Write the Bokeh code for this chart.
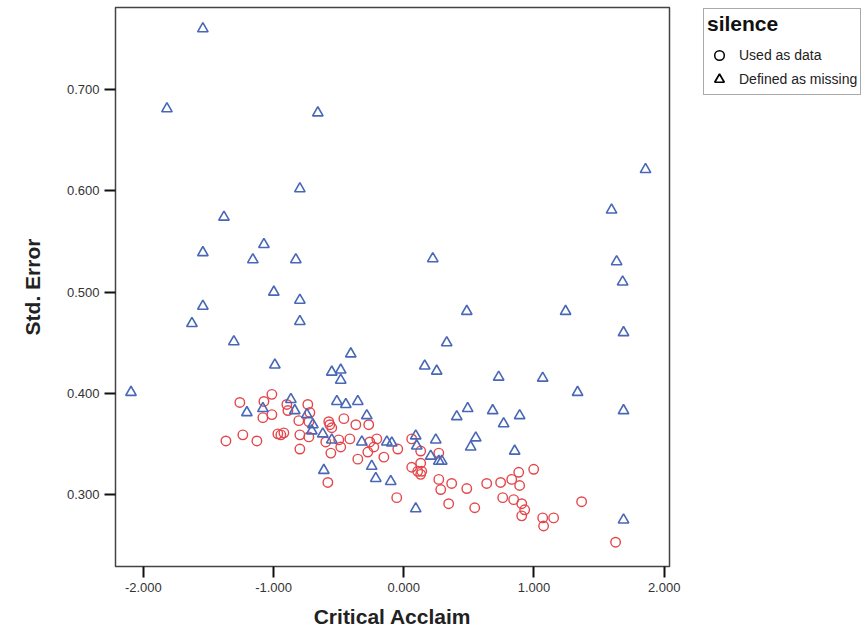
from bokeh.plotting import figure
from bokeh.layouts import row
from bokeh.models import Range1d, FixedTicker, NumeralTickFormatter, Legend, LegendItem
from bokeh.embed import file_html
from bokeh.resources import INLINE

# Cases whose "silence" value was used as data
used_x = [-1.259, -1.074, -1.013, -1.082, -1.013, -0.898, -0.890, -0.737, -0.721, -0.806,
          -0.729, -0.576, -0.568, -0.553, -0.460, -0.368, -0.269, -1.366, -1.236, -1.128,
          -0.967, -0.944, -0.921, -0.798, -0.798, -0.729, -0.599, -0.499, -0.484, -0.414,
          -0.560, -0.353, -0.276, -0.261, -0.207, -0.230, -0.153, -0.046, 0.061, 0.061,
          -0.583, -0.054, 0.130, 0.269, 0.130, 0.107, 0.138, 0.130, 0.269, 0.284,
          0.368, 0.484, 0.637, 0.744, 0.345, 0.545, 0.760, 0.829, 0.883, 0.890,
          0.998, 0.844, 0.906, 0.929, 0.906, 1.067, 1.151, 1.074, 1.366, 1.627]
used_y = [0.391, 0.392, 0.399, 0.376, 0.379, 0.389, 0.383, 0.389, 0.381, 0.373,
          0.372, 0.372, 0.369, 0.366, 0.375, 0.369, 0.369, 0.353, 0.359, 0.353,
          0.360, 0.359, 0.361, 0.359, 0.345, 0.357, 0.352, 0.354, 0.347, 0.355,
          0.341, 0.335, 0.342, 0.352, 0.355, 0.347, 0.337, 0.345, 0.355, 0.327,
          0.312, 0.297, 0.343, 0.341, 0.331, 0.323, 0.323, 0.320, 0.315, 0.305,
          0.311, 0.306, 0.311, 0.312, 0.291, 0.287, 0.297, 0.315, 0.322, 0.309,
          0.325, 0.295, 0.291, 0.285, 0.279, 0.277, 0.277, 0.269, 0.293, 0.253]

# Cases whose "silence" value was defined as missing
missing_x = [-1.543, -1.819, -0.660, -0.798, -1.381, -1.543, -1.074, -1.159, -0.829, -0.998,
             -1.543, -0.798, -0.798, -1.627, -1.305, -2.095, -0.990, -0.407, -0.553, -0.484,
             -0.484, -0.514, -0.445, -0.353, -0.284, -0.867, -0.837, -1.205, -1.082, -0.744,
             -0.698, -0.706, -0.622, -0.553, -0.322, -0.130, -0.092, -0.614, -0.246, -0.215,
             -0.100, 1.857, 1.596, 0.223, 1.635, 1.681, 0.484, 1.243, 1.688, 0.330,
             0.161, 0.253, 0.729, 1.067, 1.335, 0.491, 0.683, 0.407, 0.890, 0.767,
             1.688, 0.092, 0.100, 0.246, 0.553, 0.514, 0.852, 0.207, 0.269, 0.292,
             0.092, 1.688]
missing_y = [0.760, 0.681, 0.677, 0.602, 0.574, 0.539, 0.547, 0.532, 0.532, 0.500,
             0.486, 0.492, 0.471, 0.469, 0.451, 0.401, 0.428, 0.439, 0.421, 0.423,
             0.413, 0.392, 0.389, 0.392, 0.378, 0.394, 0.383, 0.381, 0.385, 0.379,
             0.369, 0.363, 0.360, 0.354, 0.352, 0.352, 0.351, 0.324, 0.328, 0.316,
             0.313, 0.621, 0.581, 0.533, 0.530, 0.510, 0.481, 0.481, 0.460, 0.450,
             0.427, 0.422, 0.416, 0.415, 0.401, 0.385, 0.383, 0.377, 0.378, 0.370,
             0.383, 0.358, 0.348, 0.354, 0.356, 0.347, 0.343, 0.338, 0.333, 0.333,
             0.286, 0.275]

x_ticks = [-2, -1, 0, 1, 2]
y_ticks = [0.3, 0.4, 0.5, 0.6, 0.7]

FONT = "Liberation Sans"
RED = "#e4474b"
BLUE = "#4867b6"

# ---- scatter plot -------------------------------------------------------
p = figure(width=690, height=630,
           x_range=Range1d(-2.214, 2.041), y_range=Range1d(0.229, 0.781),
           output_backend="svg", toolbar_location=None,
           min_border_left=115, min_border_right=21,
           min_border_top=7, min_border_bottom=64)

p.background_fill_color = "white"
p.border_fill_color = "white"
p.outline_line_color = "#444444"
p.outline_line_width = 1.5
p.xgrid.grid_line_color = None
p.ygrid.grid_line_color = None

p.xaxis.ticker = FixedTicker(ticks=x_ticks)
p.yaxis.ticker = FixedTicker(ticks=y_ticks)
p.xaxis.formatter = NumeralTickFormatter(format="0.000")
p.yaxis.formatter = NumeralTickFormatter(format="0.000")

for ax in (p.xaxis, p.yaxis):
    ax.axis_line_color = None
    ax.major_tick_in = 0
    ax.major_tick_out = 11
    ax.major_tick_line_width = 2
    ax.major_tick_line_color = "#111111"
    ax.minor_tick_line_color = None
    ax.major_label_text_font = FONT
    ax.major_label_text_font_size = "13px"
    ax.major_label_text_color = "#333333"
    ax.major_label_standoff = 5
    ax.axis_label_text_font = FONT
    ax.axis_label_text_font_size = "21px"
    ax.axis_label_text_font_style = "bold"
    ax.axis_label_text_color = "#222222"

p.xaxis.axis_label = "Critical Acclaim"
p.yaxis.axis_label = "Std. Error"
p.xaxis.axis_label_standoff = 10
p.yaxis.axis_label_standoff = 20

p.scatter(used_x, used_y, marker="circle", size=9.5, fill_color=None,
          line_color=RED, line_width=1.4)
p.scatter(missing_x, missing_y, marker="triangle", size=10.5, fill_color=None,
          line_color=BLUE, line_width=1.6)

# ---- legend panel -------------------------------------------------------
# Its frame is aligned with the scatter frame (top 7px, bottom 566px).
lg = figure(width=175, height=630, x_range=Range1d(0, 1), y_range=Range1d(0, 1),
            x_axis_type=None, y_axis_type=None,
            output_backend="svg", toolbar_location=None,
            min_border=0, outline_line_color=None)
lg.xgrid.grid_line_color = None
lg.ygrid.grid_line_color = None

# Legend keys are drawn in black, independent of the series colours
nan = float("nan")
key_used = lg.scatter([nan], [nan], marker="circle", size=10, fill_color=None,
                      line_color="black", line_width=1.5)
key_missing = lg.scatter([nan], [nan], marker="triangle", size=11, fill_color=None,
                         line_color="black", line_width=1.7)

legend = Legend(items=[LegendItem(label="Used as data", renderers=[key_used]),
                       LegendItem(label="Defined as missing", renderers=[key_missing])],
                title="silence", location=(13, 471))
legend.title_text_font = FONT
legend.title_text_font_size = "21px"
legend.title_text_font_style = "bold"
legend.title_text_color = "#111111"
legend.title_standoff = 7
legend.label_text_font = FONT
legend.label_text_font_size = "14px"
legend.label_text_color = "#222222"
legend.border_line_color = "#555555"
legend.border_line_width = 1.5
legend.background_fill_color = "white"
legend.background_fill_alpha = 1.0
legend.padding = 3
legend.margin = 0
legend.spacing = 0
legend.glyph_width = 24
legend.glyph_height = 24
legend.label_height = 24
legend.label_standoff = 8
lg.add_layout(legend)

open("out.html", "w").write(file_html(row(p, lg), INLINE))
